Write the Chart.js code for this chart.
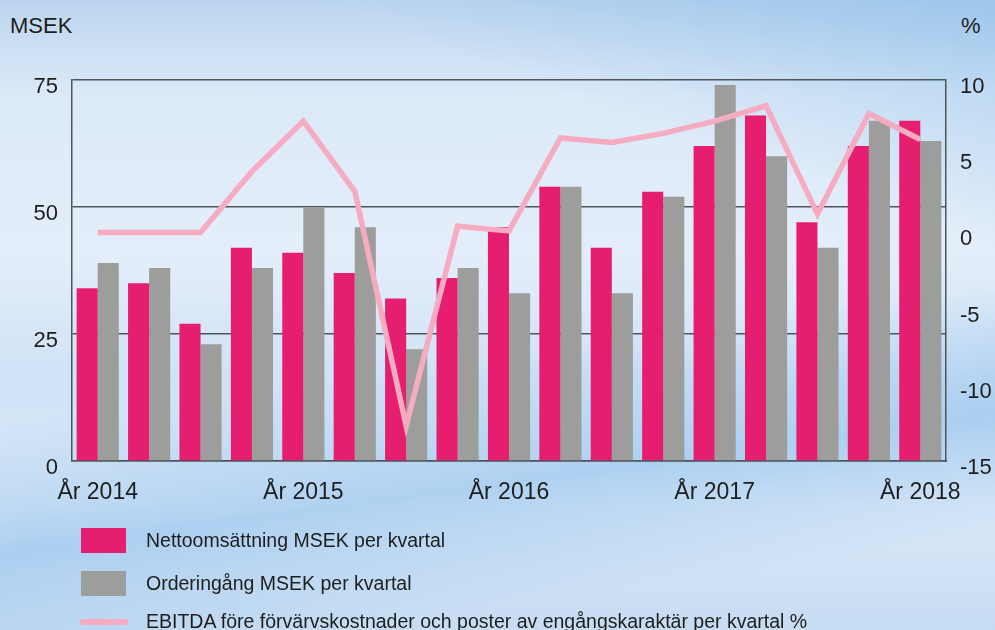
<!DOCTYPE html>
<html>
<head>
<meta charset="utf-8">
<script src="https://cdn.jsdelivr.net/npm/chart.js@4.4.1/dist/chart.umd.min.js"></script>
<style>
    html, body { margin: 0; padding: 0; }
    body {
        width: 995px; height: 630px; overflow: hidden; position: relative;
        font-family: "Liberation Sans", Arial, sans-serif; color: #1e1e1e;
        background:
            linear-gradient(172deg, rgba(255,255,255,0) 55%, rgba(140,190,235,0.55) 72%, rgba(255,255,255,0) 88%),
            linear-gradient(200deg, rgba(120,180,230,0.45) 0%, rgba(255,255,255,0) 25%),
            linear-gradient(180deg, #bcd5ef 0%, #dbe9f8 15%, #e4eefa 40%, #cfe2f6 60%, #dbe9f8 80%, #c6dcf3 100%);
    }
    #chartBox { position: absolute; left: 0; top: 0; width: 995px; height: 630px; }
    .unit { position: absolute; top: 13px; font-size: 22px; }
    .legend { position: absolute; left: 80px; font-size: 19.5px; display: flex; align-items: center; }
    .legend .sw { width: 45px; height: 25px; margin-right: 20px; }
</style>
</head>
<body>
<div class="unit" style="left:10px;">MSEK</div>
<div class="unit" style="left:961px;">%</div>
<div id="chartBox"><canvas id="kvartalChart" width="995" height="630"></canvas></div>

<div class="legend" style="top:528px;"><div class="sw" style="background:#e61e70;margin-left:1px;"></div>Nettoomsättning MSEK per kvartal</div>
<div class="legend" style="top:571px;"><div class="sw" style="background:#9d9d9b;margin-left:1px;"></div>Orderingång MSEK per kvartal</div>
<div class="legend" style="top:610px;"><div class="sw" style="height:6px;width:48px;border-radius:3px;background:#f5abc0;margin-right:18px;"></div>EBITDA före förvärvskostnader och poster av engångskaraktär per kvartal %</div>

<script>
// 17 kvartal, 2014 K1 .. 2018 K1
const quarterLabels = ['År 2014', '', '', '', 'År 2015', '', '', '', 'År 2016', '', '', '', 'År 2017', '', '', '', 'År 2018'];
const nettoomsattning = [34, 35, 27, 42, 41, 37, 32, 36, 46, 54, 42, 53, 62, 68, 47, 62, 67];
const orderingang = [39, 38, 23, 38, 50, 46, 22, 38, 33, 54, 33, 52, 74, 60, 42, 67, 63];
const ebitdaPct = [0, 0, 0, 4.0, 7.3, 2.7, -12.7, 0.4, 0.1, 6.2, 5.9, 6.5, 7.3, 8.3, 1.2, 7.8, 6.1];

const gridColor = '#4f555b';
const tickFont = { family: '"Liberation Sans", Arial, sans-serif', size: 22 };

new Chart(document.getElementById('kvartalChart').getContext('2d'), {
    type: 'bar',
    data: {
        labels: quarterLabels,
        datasets: [
            {
                type: 'line',
                label: 'EBITDA %',
                data: ebitdaPct,
                yAxisID: 'y1',
                borderColor: '#f5abc0',
                borderWidth: 5.5,
                pointRadius: 0,
                tension: 0,
                borderJoinStyle: 'miter',
                order: 0
            },
            {
                label: 'Nettoomsättning',
                data: nettoomsattning,
                backgroundColor: '#e61e70',
                categoryPercentage: 0.82,
                barPercentage: 1,
                order: 1
            },
            {
                label: 'Orderingång',
                data: orderingang,
                backgroundColor: '#9d9d9b',
                categoryPercentage: 0.82,
                barPercentage: 1,
                order: 2
            }
        ]
    },
    options: {
        responsive: false,
        animation: false,
        layout: { padding: { top: 80, left: 0, right: 0, bottom: 0 } },
        plugins: { legend: { display: false }, tooltip: { enabled: false } },
        scales: {
            x: {
                grid: { display: false, drawTicks: false },
                border: { display: true, color: gridColor, width: 1.5 },
                ticks: { color: '#1e1e1e', font: { family: tickFont.family, size: 23 }, padding: 18, autoSkip: false, maxRotation: 0 },
                afterFit: s => { s.height = 169; }
            },
            y: {
                position: 'left',
                min: 0, max: 75,
                grid: { color: gridColor, lineWidth: 1.5, drawTicks: false },
                border: { display: true, color: gridColor, width: 1.5 },
                ticks: { stepSize: 25, color: '#1e1e1e', font: tickFont, padding: 14, labelOffset: 7 },
                afterFit: s => { s.width = 72; }
            },
            y1: {
                position: 'right',
                min: -15, max: 10,
                grid: { display: false, drawTicks: false },
                border: { display: true, color: gridColor, width: 1.5 },
                ticks: { stepSize: 5, color: '#1e1e1e', font: tickFont, padding: 14, labelOffset: 7 },
                afterFit: s => { s.width = 49; }
            }
        }
    }
});
</script>
</body>
</html>
